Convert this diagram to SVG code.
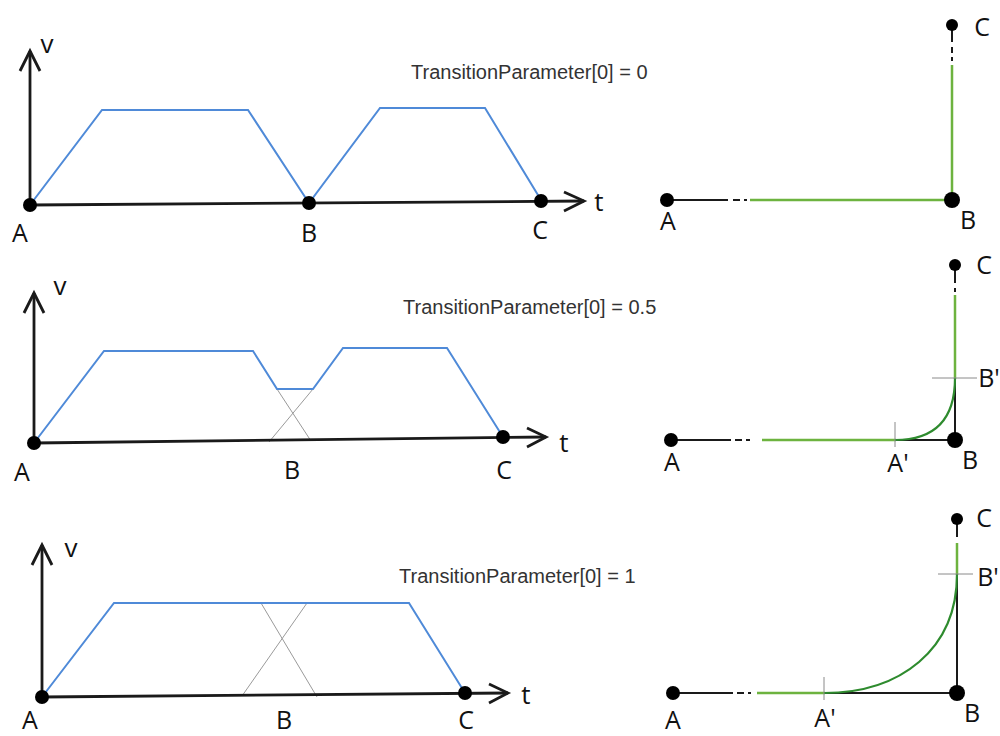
<svg xmlns="http://www.w3.org/2000/svg" width="1000" height="736" viewBox="0 0 1000 736">
<style>
.ax{stroke:#1a1a1a;stroke-width:2.8;fill:none;stroke-linejoin:miter}
.bl{stroke:#1a1a1a;stroke-width:2;fill:none}
.vel{stroke:#4f8ad8;stroke-width:2;fill:none;stroke-linejoin:miter}
.gx{stroke:#9a9a9a;stroke-width:1;fill:none}
.gs{stroke:#6db33f;stroke-width:2.5;fill:none}
.gc{stroke:#2e8b2e;stroke-width:2.2;fill:none}
.tk{stroke:#8a8a8a;stroke-width:1;fill:none}
.dot{fill:#000}
.lb{font-family:"Open Sans","DejaVu Sans",sans-serif;font-size:25px;fill:#111;text-anchor:middle}
.ax-lb{font-size:26px}
.tt{font-family:"Liberation Sans",Arial,sans-serif;font-size:20px;fill:#333}
</style>
<rect width="1000" height="736" fill="#fff"/>

<g id="chart1">
  <g id="connectors1">
    <polyline class="vel" points="30,205 102,110 248,110 309,203 380,108 485,108 541,200"/>
    <line class="ax" x1="30" y1="205" x2="30" y2="51"/>
    <polyline class="ax" points="20,71 30,51 40,71"/>
    <line class="ax" x1="30" y1="205" x2="584" y2="201"/>
    <polyline class="ax" points="564,192 584,201 564,211"/>
  </g>
  <g id="c1A"><circle class="dot" cx="30" cy="205" r="7"/><text class="lb" x="20" y="242">A</text></g>
  <g id="c1B"><circle class="dot" cx="309" cy="203" r="7"/><text class="lb" x="309" y="242">B</text></g>
  <g id="c1C"><circle class="dot" cx="541" cy="201" r="7"/><text class="lb" x="540" y="239">C</text></g>
  <text class="lb ax-lb" x="47" y="53">v</text>
  <text class="lb ax-lb" x="599" y="211">t</text>
  <text class="tt" x="411" y="79">TransitionParameter[0] = 0</text>
</g>

<g id="chart2">
  <g id="connectors2">
    <polyline class="gx" points="277,389 311,441"/>
    <polyline class="gx" points="269,442 313,389"/>
    <polyline class="vel" points="34,443 104,351 253,351 277,389 313,389 343,348 447,348 503,437"/>
    <line class="ax" x1="34" y1="443" x2="34" y2="293"/>
    <polyline class="ax" points="24,313 34,293 44,313"/>
    <line class="ax" x1="34" y1="443" x2="546" y2="437"/>
    <polyline class="ax" points="527,428 546,437 527,447"/>
  </g>
  <g id="c2A"><circle class="dot" cx="34" cy="443" r="7"/><text class="lb" x="22" y="481">A</text></g>
  <g id="c2B"><text class="lb" x="292" y="479">B</text></g>
  <g id="c2C"><circle class="dot" cx="503" cy="437" r="7"/><text class="lb" x="504" y="479">C</text></g>
  <text class="lb ax-lb" x="60" y="295">v</text>
  <text class="lb ax-lb" x="564" y="452">t</text>
  <text class="tt" x="403" y="314">TransitionParameter[0] = 0.5</text>
</g>

<g id="chart3">
  <g id="connectors3">
    <polyline class="gx" points="261,603 317,697"/>
    <polyline class="gx" points="242,696 307,603"/>
    <polyline class="vel" points="42,697 114,603 409,603 465,693"/>
    <line class="ax" x1="42" y1="697" x2="42" y2="545"/>
    <polyline class="ax" points="32,565 42,545 52,565"/>
    <line class="ax" x1="42" y1="697" x2="508" y2="693"/>
    <polyline class="ax" points="489,684 508,693 489,703"/>
  </g>
  <g id="c3A"><circle class="dot" cx="42" cy="697" r="7"/><text class="lb" x="30" y="729">A</text></g>
  <g id="c3B"><text class="lb" x="284" y="729">B</text></g>
  <g id="c3C"><circle class="dot" cx="465" cy="693" r="7"/><text class="lb" x="466" y="729">C</text></g>
  <text class="lb ax-lb" x="71" y="557">v</text>
  <text class="lb ax-lb" x="526" y="704">t</text>
  <text class="tt" x="399" y="583">TransitionParameter[0] = 1</text>
</g>

<g id="path1">
  <g id="connectorsP1">
    <line class="bl" x1="667" y1="200" x2="728" y2="200"/>
    <line class="bl" x1="733" y1="200" x2="740" y2="200"/>
    <line class="bl" x1="744" y1="200" x2="747" y2="200"/>
    <line class="bl" x1="952" y1="25" x2="952" y2="42"/>
    <line class="bl" x1="952" y1="47" x2="952" y2="53"/>
    <line class="bl" x1="952" y1="57" x2="952" y2="61"/>
    <polyline class="gs" points="750,200 952,200 952,65"/>
  </g>
  <g id="p1A"><circle class="dot" cx="667" cy="200" r="7"/><text class="lb" x="668" y="230">A</text></g>
  <g id="p1B"><circle class="dot" cx="952" cy="200" r="8"/><text class="lb" x="968" y="229">B</text></g>
  <g id="p1C"><circle class="dot" cx="952" cy="25" r="6"/><text class="lb" x="982" y="36">C</text></g>
</g>

<g id="path2">
  <g id="connectorsP2">
    <line class="bl" x1="671" y1="440" x2="731" y2="440"/>
    <line class="bl" x1="735" y1="440" x2="742" y2="440"/>
    <line class="bl" x1="746" y1="440" x2="750" y2="440"/>
    <polyline class="bl" points="895,440 955,440 955,380"/>
    <line class="bl" x1="955" y1="265" x2="955" y2="283"/>
    <line class="bl" x1="955" y1="288" x2="955" y2="292"/>
    <line class="gs" x1="762" y1="440" x2="896" y2="440"/>
    <line class="gs" x1="955" y1="379" x2="955" y2="295"/>
    <path class="gc" d="M895,440 C935,440 955,420 955,378"/>
    <line class="tk" x1="895" y1="422" x2="895" y2="447"/>
    <line class="tk" x1="932" y1="378" x2="977" y2="378"/>
  </g>
  <g id="p2A"><circle class="dot" cx="671" cy="440" r="7"/><text class="lb" x="672" y="471">A</text></g>
  <g id="p2Ap"><text class="lb" x="898" y="472">A'</text></g>
  <g id="p2B"><circle class="dot" cx="955" cy="440" r="8"/><text class="lb" x="970" y="469">B</text></g>
  <g id="p2Bp"><text class="lb" x="989" y="387">B'</text></g>
  <g id="p2C"><circle class="dot" cx="955" cy="265" r="6"/><text class="lb" x="984" y="274">C</text></g>
</g>

<g id="path3">
  <g id="connectorsP3">
    <line class="bl" x1="673" y1="693" x2="733" y2="693"/>
    <line class="bl" x1="737" y1="693" x2="744" y2="693"/>
    <line class="bl" x1="748" y1="693" x2="751" y2="693"/>
    <polyline class="bl" points="824,693 957,693 957,576"/>
    <line class="bl" x1="957" y1="519" x2="957" y2="537"/>
    <line class="gs" x1="757" y1="693" x2="825" y2="693"/>
    <line class="gs" x1="957" y1="575" x2="957" y2="543"/>
    <path class="gc" d="M824,693 C900,693 957,650 957,574"/>
    <line class="tk" x1="824" y1="677" x2="824" y2="700"/>
    <line class="tk" x1="938" y1="574" x2="973" y2="574"/>
  </g>
  <g id="p3A"><circle class="dot" cx="673" cy="693" r="7"/><text class="lb" x="673" y="729">A</text></g>
  <g id="p3Ap"><text class="lb" x="825" y="727">A'</text></g>
  <g id="p3B"><circle class="dot" cx="957" cy="693" r="8"/><text class="lb" x="972" y="722">B</text></g>
  <g id="p3Bp"><text class="lb" x="988" y="586">B'</text></g>
  <g id="p3C"><circle class="dot" cx="957" cy="519" r="6"/><text class="lb" x="984" y="527">C</text></g>
</g>
</svg>
